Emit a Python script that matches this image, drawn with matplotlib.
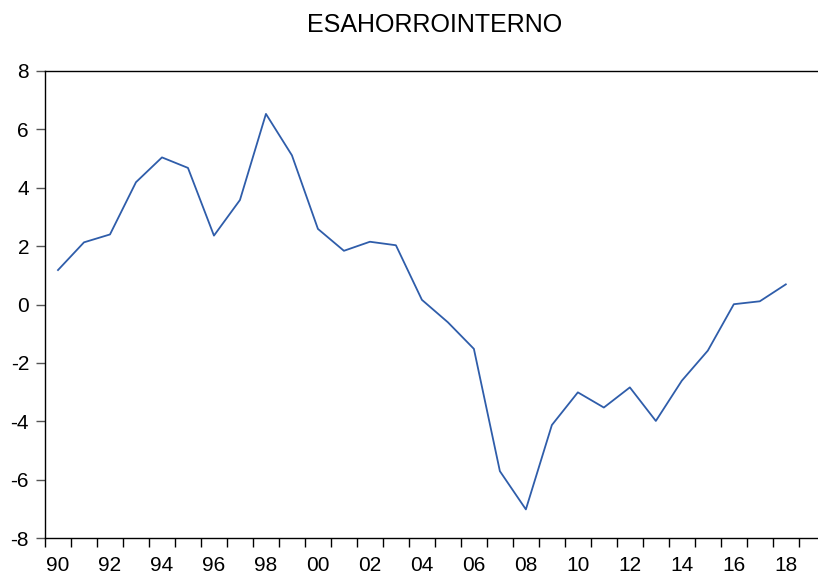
import matplotlib
matplotlib.use("Agg")
import matplotlib.pyplot as plt
import numpy as np

years = list(range(1990, 2019))
values = [1.18, 2.13, 2.40, 4.19, 5.04, 4.68, 2.36, 3.58, 6.53, 5.11,
          2.59, 1.84, 2.15, 2.03, 0.16, -0.61, -1.52, -5.71, -7.02, -4.13,
          -3.01, -3.53, -2.84, -3.99, -2.61, -1.58, 0.01, 0.11, 0.69]
label_years = list(range(1990, 2019, 2))
label_text = [f"{y % 100:02d}" for y in label_years]
yticks = [-8, -6, -4, -2, 0, 2, 4, 6, 8]

plt.rcParams['font.family'] = ['Liberation Sans', 'DejaVu Sans']

fig = plt.figure(figsize=(8.18, 5.75), dpi=100)
ax = fig.add_axes([45/818, 37/575, (817-45)/818, (538-71)/575])
ax.plot(years, values, color='#2F5DAA', lw=1.3)

ax.set_xlim(1989.5, 2019.2)
ax.set_ylim(-8, 8)
ax.set_yticks(yticks)
ax.set_yticklabels([str(v) for v in yticks], fontsize=15)

ax.set_xticks(np.arange(1989.5, 2019.5, 1.0))
ax.set_xticklabels([])
ax.set_xticks(label_years, minor=True)
ax.set_xticklabels(label_text, minor=True, fontsize=15)
ax.tick_params(axis='x', which='major', length=6.5, width=1, direction='out', color='black')
ax.tick_params(axis='x', which='minor', length=0, pad=13)
ax.tick_params(axis='y', length=6.5, width=1, color='#555555', pad=5)

ax.spines['right'].set_visible(False)
for s in ['left', 'bottom', 'top']:
    ax.spines[s].set_linewidth(1.0)
    ax.spines[s].set_color('black')

fig.text(435/818, 1 - 25/575, "ESAHORROINTERNO", ha='center', va='center', fontsize=18)

fig.savefig("out.png", dpi=100)
